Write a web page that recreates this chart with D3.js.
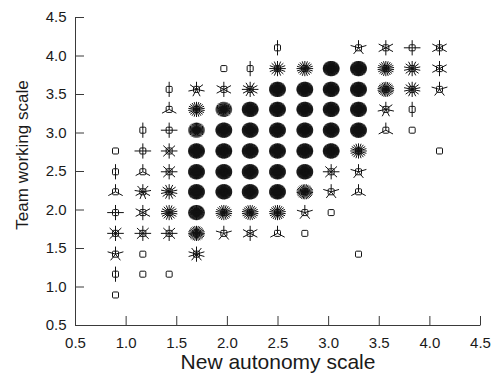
<!DOCTYPE html>
<html><head><meta charset="utf-8">
<script src="https://cdn.jsdelivr.net/npm/d3@7"></script>
<style>
body{margin:0;background:#fff}
svg{display:block}
</style>
</head><body>
<svg id="chart" width="492" height="374"></svg>
<script>
// Distinct score levels (x: new autonomy scale, y: team working scale)
const xLevels = [0.90, 1.17, 1.43, 1.70, 1.97, 2.23, 2.50, 2.77, 3.03, 3.30, 3.57, 3.83, 4.10];
const yLevels = [0.89, 1.16, 1.42, 1.69, 1.96, 2.23, 2.49, 2.76, 3.03, 3.30, 3.56, 3.83, 4.10];
// Counts per cell; row i corresponds to yLevels[i], column j to xLevels[j]
const counts = [
  [1,0,0,0,0,0,0,0,0,0,0,0,0],
  [2,1,1,0,0,0,0,0,0,0,0,0,0],
  [5,1,0,10,0,0,0,0,0,1,0,0,0],
  [8,8,8,28,5,6,3,1,0,0,0,0,0],
  [4,6,18,60,22,22,22,5,1,0,0,0,0],
  [3,9,14,80,80,80,80,30,5,3,0,0,0],
  [2,3,8,80,80,80,80,80,8,5,0,0,0],
  [1,4,8,80,80,80,80,80,80,20,0,0,1],
  [0,2,4,45,80,80,80,80,80,80,3,1,0],
  [0,0,3,22,45,80,80,80,80,80,7,2,0],
  [0,0,2,7,6,12,80,80,80,80,26,14,5],
  [0,0,0,0,1,2,16,20,80,80,22,14,6],
  [0,0,0,0,0,0,2,0,0,5,6,4,6]
];
const xTicks = [0.5,1.0,1.5,2.0,2.5,3.0,3.5,4.0,4.5];
const yTicks = [0.5,1.0,1.5,2.0,2.5,3.0,3.5,4.0,4.5];
const xTitle = "New autonomy scale";
const yTitle = "Team working scale";

const svg = d3.select("#chart");
const x = d3.scaleLinear().domain([0.5,4.5]).range([75,480]);
const y = d3.scaleLinear().domain([0.5,4.5]).range([325,17]);
const FONT = "'Liberation Sans', Arial, Helvetica, sans-serif";

// Axes
const gx = svg.append("g").attr("transform","translate(0,325)")
  .call(d3.axisBottom(x).tickValues(xTicks).tickFormat(d3.format(".1f")).tickSizeInner(-9).tickSizeOuter(0).tickPadding(12));
const gy = svg.append("g").attr("transform","translate(75,0)")
  .call(d3.axisLeft(y).tickValues(yTicks).tickFormat(d3.format(".1f")).tickSizeInner(-9).tickSizeOuter(0).tickPadding(8.5));
[gx,gy].forEach(g=>{
  g.attr("font-family",FONT).attr("font-size",15);
  g.selectAll("path,line").attr("stroke","#3a3a3a").attr("stroke-width",1);
  g.selectAll("text").attr("fill","#1a1a1a");
});

// Sunflowers
const cells = [];
counts.forEach((row,i)=>row.forEach((n,j)=>{ if(n>0) cells.push({x:xLevels[j], y:yLevels[i], n}); }));
const rx = 8.3, ry = 7.6;
const g = svg.append("g");
cells.forEach(c=>{
  const cx = x(c.x), cy = y(c.y);
  const cg = g.append("g").attr("transform",`translate(${cx},${cy})`);
  if (c.n > 1) {
    const petals = d3.range(1, c.n+1).map(k => 2*Math.PI*k/c.n);
    cg.selectAll("line").data(petals).join("line")
      .attr("x1",0).attr("y1",0)
      .attr("x2",a=>rx*Math.sin(a)).attr("y2",a=>-ry*Math.cos(a))
      .attr("stroke","#111").attr("stroke-width",1);
  }
  cg.append("rect").attr("x",-3).attr("y",-3).attr("width",6).attr("height",6)
    .attr("rx",1).attr("fill","none").attr("stroke","#111").attr("stroke-width",1);
});

// Titles
svg.append("text").attr("x",278).attr("y",369).attr("text-anchor","middle")
  .attr("font-family",FONT).attr("font-size",21).attr("fill","#1a1a1a").text(xTitle);
svg.append("text").attr("transform","translate(27.5,155) rotate(-90)").attr("text-anchor","middle")
  .attr("font-family",FONT).attr("font-size",17).attr("fill","#1a1a1a").text(yTitle);
</script>
</body></html>
